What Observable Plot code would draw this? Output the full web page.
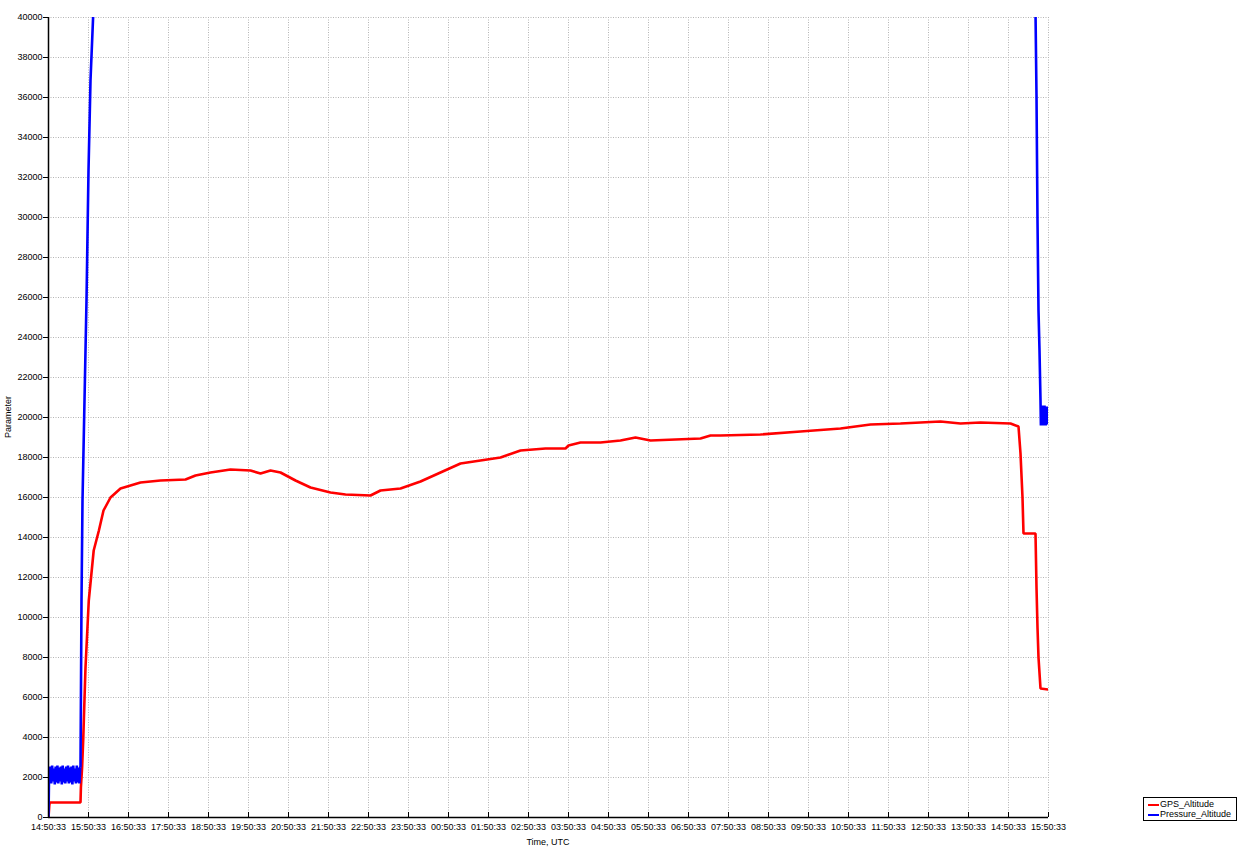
<!DOCTYPE html>
<html>
<head>
<meta charset="utf-8">
<script src="https://cdn.jsdelivr.net/npm/d3@7"></script>
<script src="https://cdn.jsdelivr.net/npm/@observablehq/plot@0.6"></script>
<style>
  html, body { margin: 0; padding: 0; background: #fff; }
  #wrap { position: relative; width: 1238px; height: 849px; font-family: "Liberation Sans", Arial, sans-serif; }
  #wrap svg { position: absolute; left: 0; top: 0; }
  .lbl { position: absolute; font-size: 9px; color: #000; white-space: nowrap; }
  #ylab { left: 8px; top: 417px; transform: translate(-50%, -50%) rotate(-90deg); }
  #xlab { left: 548px; top: 842px; transform: translate(-50%, -50%); }
  #legend { position: absolute; left: 1143px; top: 797px; width: 92px; height: 22px; border: 1px solid #000; background: #fff; font-size: 9px; }
  .li { position: absolute; left: 4px; height: 10px; line-height: 10px; }
  .li span.sw { display: inline-block; width: 11px; height: 2px; vertical-align: middle; margin-right: 1px; }
</style>
</head>
<body>
<div id="wrap">
  <div id="chart"></div>
  <div class="lbl" id="ylab">Parameter</div>
  <div class="lbl" id="xlab">Time, UTC</div>
  <div id="legend"></div>
</div>
<script>
// Tick labels (hours since 14:50:33 UTC)
const timeLabels = ["14:50:33","15:50:33","16:50:33","17:50:33","18:50:33","19:50:33","20:50:33","21:50:33","22:50:33","23:50:33","00:50:33","01:50:33","02:50:33","03:50:33","04:50:33","05:50:33","06:50:33","07:50:33","08:50:33","09:50:33","10:50:33","11:50:33","12:50:33","13:50:33","14:50:33","15:50:33"];
const hourTicks = [0,1,2,3,4,5,6,7,8,9,10,11,12,13,14,15,16,17,18,19,20,21,22,23,24,25];
const yTicks = [0,2000,4000,6000,8000,10000,12000,14000,16000,18000,20000,22000,24000,26000,28000,30000,32000,34000,36000,38000,40000];

// Series names
const seriesNames = ["GPS_Altitude", "Pressure_Altitude"];
const seriesColors = ["#ff0000", "#0000ff"];

// GPS_Altitude: hours since start, value
const gpsHours = [0,0.02,0.03,0.8,0.81,0.84,0.87,0.883,0.925,1.007,1.13,1.26,1.375,1.55,1.8,2.05,2.3,2.8,3.425,3.675,4.05,4.55,5.05,5.3,5.55,5.8,6.175,6.55,7.05,7.425,8.05,8.3,8.8,9.3,9.8,10.3,10.8,11.3,11.8,12.425,12.925,13.0,13.3,13.8,14.3,14.675,15.05,16.3,16.55,16.8,17.8,18.8,19.8,20.55,21.3,22.3,22.8,23.3,24.05,24.25,24.3,24.35,24.375,24.675,24.7,24.725,24.75,24.8,25];
const gpsValues = [0,600,750,750,1500,2500,4000,4850,7500,10850,13350,14350,15350,16000,16450,16600,16750,16850,16900,17100,17250,17400,17350,17200,17350,17250,16850,16500,16250,16150,16100,16350,16450,16800,17250,17700,17850,18000,18350,18450,18450,18600,18750,18750,18850,19000,18850,18950,19100,19100,19150,19300,19450,19650,19700,19800,19700,19750,19700,19550,18200,16000,14200,14200,11500,9500,8000,6450,6400];

// Pressure_Altitude: hours since start, value (goes above the 40000 axis limit)
const presHours = [0,0.015,0.025,0.047,0.069,0.091,0.113,0.135,0.157,0.179,0.201,0.223,0.245,0.267,0.289,0.311,0.333,0.355,0.377,0.399,0.421,0.443,0.465,0.487,0.509,0.531,0.553,0.575,0.597,0.619,0.641,0.663,0.685,0.707,0.729,0.751,0.773,0.795,0.8,0.825,0.85,0.9,0.95,1.0,1.05,1.125,1.3,2,5,8,12,18,24.3,24.6,24.675,24.7,24.725,24.75,24.775,24.8,24.81,24.82,24.83,24.84,24.85,24.86,24.87,24.88,24.89,24.9,24.91,24.92,24.93,24.94,24.95,24.96,24.97,24.98,24.99,25];
const presValues = [0,2300,1750,2550,1700,2600,1800,2450,1650,2550,1750,2600,1700,2500,1800,2550,1650,2600,1750,2450,1700,2550,1800,2600,1700,2500,1750,2550,1650,2600,1800,2450,1700,2600,1750,2500,1700,2550,2500,10800,15850,20850,25850,32350,36850,40500,45000,54000,56500,53000,60000,63000,64000,45000,40300,36100,29850,25350,23350,20850,19600,20500,19650,20600,19700,20400,19600,20500,19700,20600,19650,20400,19600,20500,19700,20550,19650,20400,19800,20300];

const gps = gpsHours.map((h, i) => ({h, v: gpsValues[i]}));
const pres = presHours.map((h, i) => ({h, v: presValues[i]}));

const gridStyle = {stroke: "#b4b4b4", strokeDasharray: "1,1.5", strokeOpacity: 1, strokeWidth: 1};

const chart = Plot.plot({
  width: 1238,
  height: 849,
  marginLeft: 48,
  marginRight: 190,
  marginTop: 17,
  marginBottom: 32,
  style: {fontFamily: "Liberation Sans, Arial, sans-serif", fontSize: "9px", background: "#fff", color: "#000"},
  x: {domain: [0, 25], label: null},
  y: {domain: [0, 40000], label: null},
  marks: [
    Plot.gridX(hourTicks.slice(1), gridStyle),
    Plot.gridY(yTicks.slice(1), gridStyle),
    Plot.line(gps, {x: "h", y: "v", stroke: seriesColors[0], strokeWidth: 2.6, clip: true, strokeLinejoin: "miter"}),
    Plot.line(pres, {x: "h", y: "v", stroke: seriesColors[1], strokeWidth: 2.6, clip: true, strokeLinejoin: "miter"}),
    Plot.ruleX([0], {stroke: "#000", strokeWidth: 1.5}),
    Plot.ruleY([0], {stroke: "#000", strokeWidth: 1.5}),
    Plot.ruleX(hourTicks.slice(1), {x: d => d, y1: 0, y2: 250, stroke: "#000", strokeWidth: 1}),
    Plot.axisY({ticks: yTicks, tickSize: 5, tickPadding: 1, tickFormat: d => String(d), label: null, fontSize: 9}),
    Plot.axisX({ticks: hourTicks, tickSize: 0, tickPadding: 6, tickFormat: d => timeLabels[d], label: null, fontSize: 9})
  ]
});
document.getElementById("chart").appendChild(chart);

const legend = document.getElementById("legend");
seriesNames.forEach((name, i) => {
  const row = document.createElement("div");
  row.className = "li";
  row.style.top = (1 + i * 10) + "px";
  row.innerHTML = `<span class="sw" style="background:${seriesColors[i]}"></span>${name}`;
  legend.appendChild(row);
});
</script>
</body>
</html>
